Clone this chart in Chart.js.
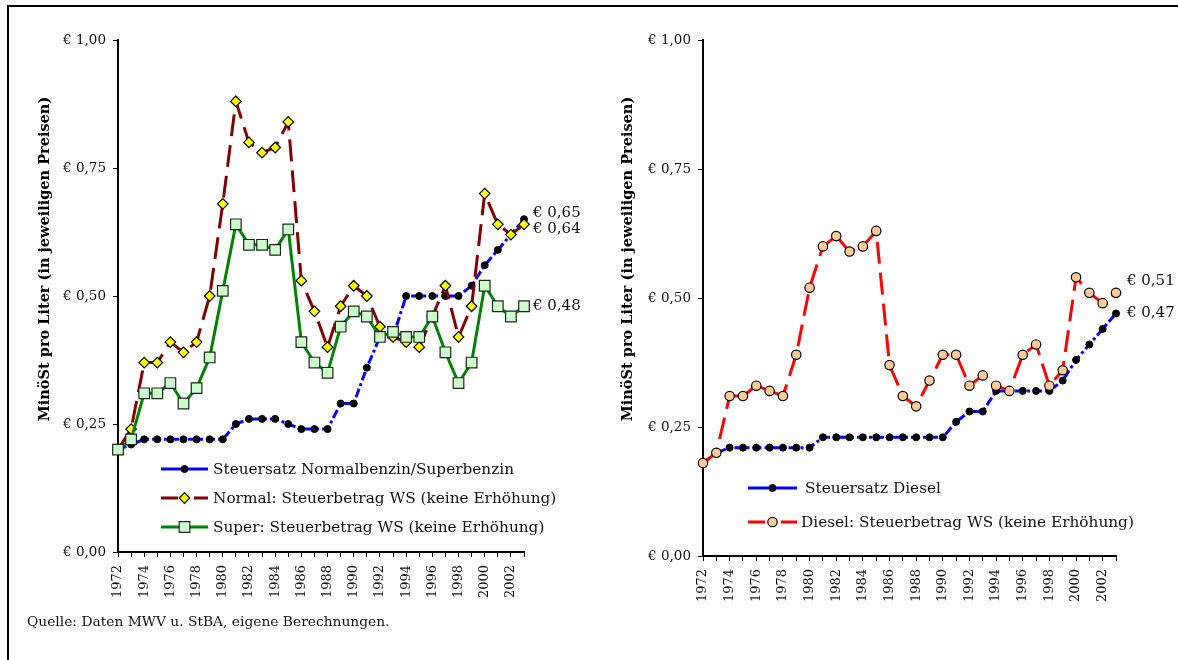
<!DOCTYPE html>
<html lang="de">
<head>
<meta charset="utf-8">
<title>Mineralölsteuer pro Liter 1972–2003</title>
<script src="https://cdn.jsdelivr.net/npm/chart.js@4.4.1/dist/chart.umd.min.js"></script>
<style>
  html, body { margin: 0; padding: 0; background: #fff; }
  body { width: 1178px; height: 660px; position: relative; overflow: hidden; font-family: "DejaVu Serif", serif; }
  #frame { position: absolute; left: 7px; top: 5px; width: 1200px; height: 700px; border: 2px solid #000; box-sizing: border-box; }
  canvas { position: absolute; top: 0; }
  #cvLeft { left: 0; }
  #cvRight { left: 590px; }
  #source { position: absolute; left: 27px; top: 613px; font-size: 13.8px; color: #111; white-space: nowrap; }
</style>
</head>
<body>
<div id="frame"></div>
<canvas id="cvLeft" width="590" height="660"></canvas>
<canvas id="cvRight" width="588" height="660"></canvas>
<div id="source">Quelle: Daten MWV u. StBA, eigene Berechnungen.</div>
<script>
// Jahre 1972–2003
const years = ['1972','1973','1974','1975','1976','1977','1978','1979','1980','1981','1982','1983','1984','1985','1986','1987',
               '1988','1989','1990','1991','1992','1993','1994','1995','1996','1997','1998','1999','2000','2001','2002','2003'];

// Achsenbeschriftung der y-Achse (0 bis 1 Euro in Viertelschritten)
const yTickLabels = ['€ 0,00', '€ 0,25', '€ 0,50', '€ 0,75', '€ 1,00'];
const axisTitle = 'MinöSt pro Liter (in jeweiligen Preisen)';

// Benzin (Euro je Liter)
const rateGasoline = [0.20,0.21,0.22,0.22,0.22,0.22,0.22,0.22,0.22,0.25,0.26,0.26,0.26,0.25,0.24,0.24,
                      0.24,0.29,0.29,0.36,0.42,0.42,0.50,0.50,0.50,0.50,0.50,0.52,0.56,0.59,0.62,0.65];
const normalWS   = [0.20,0.24,0.37,0.37,0.41,0.39,0.41,0.50,0.68,0.88,0.80,0.78,0.79,0.84,0.53,0.47,
                      0.40,0.48,0.52,0.50,0.44,0.42,0.41,0.40,0.46,0.52,0.42,0.48,0.70,0.64,0.62,0.64];
const superWS    = [0.20,0.22,0.31,0.31,0.33,0.29,0.32,0.38,0.51,0.64,0.60,0.60,0.59,0.63,0.41,0.37,
                      0.35,0.44,0.47,0.46,0.42,0.43,0.42,0.42,0.46,0.39,0.33,0.37,0.52,0.48,0.46,0.48];

// Diesel (Euro je Liter)
const rateDiesel = [0.18,0.20,0.21,0.21,0.21,0.21,0.21,0.21,0.21,0.23,0.23,0.23,0.23,0.23,0.23,0.23,
                    0.23,0.23,0.23,0.26,0.28,0.28,0.32,0.32,0.32,0.32,0.32,0.34,0.38,0.41,0.44,0.47];
const dieselWS   = [0.18,0.20,0.31,0.31,0.33,0.32,0.31,0.39,0.52,0.60,0.62,0.59,0.60,0.63,0.37,0.31,
                    0.29,0.34,0.39,0.39,0.33,0.35,0.33,0.32,0.39,0.41,0.33,0.36,0.54,0.51,0.49,0.51];

const FONT = '"DejaVu Serif", serif';
const euro = v => '€ ' + v.toFixed(2).replace('.', ',');

// Zeichnet Achsentitel, Legende und Endwert-Beschriftungen
const decor = {
  id: 'decor',
  afterDatasetsDraw(chart, args, o) {
    const ctx = chart.ctx;
    ctx.save();

    // y-Achsentitel
    ctx.translate(o.title.x, o.title.y);
    ctx.rotate(-Math.PI / 2);
    ctx.font = 'bold 14.5px ' + FONT;
    ctx.fillStyle = '#000';
    ctx.textAlign = 'center';
    ctx.textBaseline = 'middle';
    ctx.fillText(axisTitle, 0, 0);
    ctx.setTransform(1, 0, 0, 1, 0, 0);

    // Werte am Ende der Linien
    ctx.font = '15px ' + FONT;
    ctx.textAlign = 'left';
    ctx.textBaseline = 'middle';
    o.endLabels.forEach(l => {
      const meta = chart.getDatasetMeta(l.dataset);
      const pt = meta.data[meta.data.length - 1];
      const data = chart.data.datasets[l.dataset].data;
      ctx.fillStyle = '#111';
      ctx.fillText(euro(data[data.length - 1]), pt.x + l.dx, pt.y + l.dy);
    });

    // Legende
    o.legend.forEach(e => {
      const ds = chart.data.datasets[e.dataset];
      ctx.save();
      ctx.strokeStyle = ds.borderColor;
      ctx.lineWidth = ds.borderWidth;
      ctx.setLineDash(e.dash || []);
      ctx.beginPath();
      ctx.moveTo(e.x1, e.y);
      ctx.lineTo(e.x2, e.y);
      ctx.stroke();
      ctx.restore();
      ctx.fillStyle = ds.pointBackgroundColor;
      ctx.strokeStyle = ds.pointBorderColor;
      ctx.lineWidth = ds.pointBorderWidth;
      Chart.helpers.drawPoint(ctx, {
        pointStyle: ds.pointStyle, rotation: 0,
        radius: ds.pointRadius, borderWidth: ds.pointBorderWidth
      }, (e.x1 + e.x2) / 2, e.y);
      ctx.fillStyle = '#111';
      ctx.font = '15.3px ' + FONT;
      ctx.textAlign = 'left';
      ctx.textBaseline = 'middle';
      ctx.fillText(ds.label, e.tx, e.y + 1);
    });
    ctx.restore();
  }
};

function scales(yWidth, xHeight) {
  return {
    x: {
      type: 'category',
      offset: false,
      grid: { display: true, drawOnChartArea: false, drawTicks: true, tickLength: 5, color: '#000', lineWidth: 1 },
      border: { display: true, color: '#000', width: 2 },
      ticks: {
        autoSkip: false, minRotation: 90, maxRotation: 90, padding: 8, color: '#111',
        font: { family: FONT, size: 13 },
        callback(v, i) { return i % 2 === 0 ? years[i] : ''; }
      },
      afterFit(s) { s.height = xHeight; }
    },
    y: {
      min: 0, max: 1,
      grid: { display: true, drawOnChartArea: false, drawTicks: true, tickLength: 5, color: '#000', lineWidth: 1 },
      border: { display: true, color: '#000', width: 2 },
      ticks: {
        stepSize: 0.25, padding: 7, color: '#111',
        font: { family: FONT, size: 13.5 },
        callback(v, i) { return yTickLabels[i]; }
      },
      afterFit(s) { s.width = yWidth; }
    }
  };
}

const rateStyle = {
  borderColor: '#0000ff', borderWidth: 3, borderDash: [9, 3, 3, 3],
  pointStyle: 'circle', pointRadius: 3.5, pointBackgroundColor: '#000', pointBorderColor: '#000', pointBorderWidth: 1
};

const common = {
  responsive: false,
  animation: false,
  devicePixelRatio: 1,
  events: [],
  datasets: { line: { clip: false, tension: 0, pointHoverRadius: 0 } }
};

new Chart(document.getElementById('cvLeft'), {
  type: 'line',
  data: {
    labels: years,
    datasets: [
      Object.assign({ label: 'Steuersatz Normalbenzin/Superbenzin', data: rateGasoline, order: 3 }, rateStyle),
      {
        label: 'Normal: Steuerbetrag WS (keine Erhöhung)', data: normalWS, order: 2,
        borderColor: '#800000', borderWidth: 3, borderDash: [22, 9],
        pointStyle: 'rectRot', pointRadius: 5.3, pointBackgroundColor: '#ffff00', pointBorderColor: '#000', pointBorderWidth: 1.2
      },
      {
        label: 'Super: Steuerbetrag WS (keine Erhöhung)', data: superWS, order: 1,
        borderColor: '#008000', borderWidth: 3,
        pointStyle: 'rect', pointRadius: 7.5, pointBackgroundColor: '#ccffcc', pointBorderColor: '#222', pointBorderWidth: 1.2
      }
    ]
  },
  options: Object.assign({}, common, {
    layout: { padding: { left: 58, right: 66, top: 40, bottom: 48 } },
    scales: scales(60, 60),
    plugins: {
      legend: { display: false },
      tooltip: { enabled: false },
      decor: {
        title: { x: 45, y: 259 },
        endLabels: [
          { dataset: 0, dx: 9, dy: -6 },
          { dataset: 1, dx: 9, dy: 5 },
          { dataset: 2, dx: 9, dy: 0 }
        ],
        legend: [
          { dataset: 0, x1: 161, x2: 208, y: 469, tx: 213 },
          { dataset: 1, x1: 161, x2: 208, y: 498, tx: 213, dash: [17, 16] },
          { dataset: 2, x1: 161, x2: 208, y: 527, tx: 213 }
        ]
      }
    }
  }),
  plugins: [decor]
});

new Chart(document.getElementById('cvRight'), {
  type: 'line',
  data: {
    labels: years,
    datasets: [
      Object.assign({ label: 'Steuersatz Diesel', data: rateDiesel, order: 2 }, rateStyle),
      {
        label: 'Diesel: Steuerbetrag WS (keine Erhöhung)', data: dieselWS, order: 1,
        borderColor: '#ff0000', borderWidth: 3, borderDash: [22, 9],
        pointStyle: 'circle', pointRadius: 4.7, pointBackgroundColor: '#ffcc99', pointBorderColor: '#000', pointBorderWidth: 1.2
      }
    ]
  },
  options: Object.assign({}, common, {
    layout: { padding: { left: 53, right: 62, top: 40, bottom: 44 } },
    scales: scales(60, 60),
    plugins: {
      legend: { display: false },
      tooltip: { enabled: false },
      decor: {
        title: { x: 38, y: 259 },
        endLabels: [
          { dataset: 0, dx: 11, dy: 0 },
          { dataset: 1, dx: 11, dy: -12 }
        ],
        legend: [
          { dataset: 0, x1: 158, x2: 207, y: 488, tx: 215 },
          { dataset: 1, x1: 158, x2: 207, y: 522, tx: 211, dash: [17, 16] }
        ]
      }
    }
  }),
  plugins: [decor]
});
</script>
</body>
</html>
